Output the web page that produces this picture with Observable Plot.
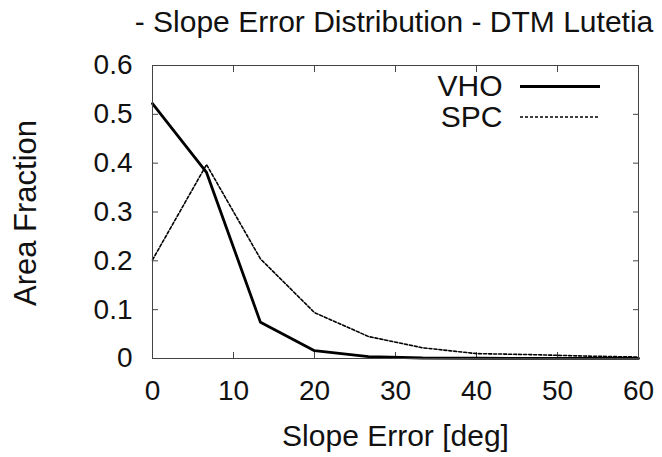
<!DOCTYPE html>
<html>
<head>
<meta charset="utf-8">
<script src="https://cdn.jsdelivr.net/npm/d3@7"></script>
<script src="https://cdn.jsdelivr.net/npm/@observablehq/plot@0.6"></script>
<style>
  html, body { margin: 0; padding: 0; background: #fff; }
  #chart svg { display: block; font-family: "Liberation Sans", Arial, Helvetica, sans-serif; }
</style>
</head>
<body>
<div id="chart"></div>
<script>
const slopeError = [0, 6.67, 13.33, 20, 26.67, 33.33, 40, 46.67, 53.33, 60];
const vho = [0.522, 0.381, 0.074, 0.016, 0.004, 0.001, 0.0005, 0.0003, 0.0002, 0.0001];
const spc = [0.202, 0.397, 0.204, 0.094, 0.045, 0.022, 0.010, 0.008, 0.005, 0.003];
const xTicks = [0, 10, 20, 30, 40, 50, 60];
const yTicks = [0, 0.1, 0.2, 0.3, 0.4, 0.5, 0.6];
const seriesNames = ["VHO", "SPC"];
const title = "- Slope Error Distribution - DTM Lutetia";
const xLabel = "Slope Error [deg]";
const yLabel = "Area Fraction";

const vhoData = slopeError.map((x, i) => ({x, y: vho[i]}));
const spcData = slopeError.map((x, i) => ({x, y: spc[i]}));

const font = "'Liberation Sans', Arial, Helvetica, sans-serif";

function legendLines(index, scales, values, dim) {
  const g = d3.create("svg:g");
  const x1 = dim.width - dim.marginRight - 118, x2 = dim.width - dim.marginRight - 38;
  g.append("line").attr("x1", x1).attr("x2", x2)
    .attr("y1", dim.marginTop + 21.5).attr("y2", dim.marginTop + 21.5)
    .attr("stroke", "#000").attr("stroke-width", 2.8);
  g.append("line").attr("x1", x1).attr("x2", x2)
    .attr("y1", dim.marginTop + 52).attr("y2", dim.marginTop + 52)
    .attr("stroke", "#000").attr("stroke-width", 1.6).attr("stroke-dasharray", "3,2");
  return g.node();
}

const chart = Plot.plot({
  width: 662,
  height: 457,
  marginLeft: 152,
  marginRight: 24,
  marginTop: 65,
  marginBottom: 99,
  style: {fontFamily: font, color: "#000", background: "#fff"},
  x: {domain: [0, 60]},
  y: {domain: [0, 0.6]},
  marks: [
    Plot.axisX(xTicks, {tickSize: 0, tickPadding: 22, fontSize: 28, label: null, fill: "#111"}),
    Plot.axisX(xTicks, {anchor: "bottom", tickSize: -6, text: null, label: null, stroke: "#444"}),
    Plot.axisX(xTicks, {anchor: "top", tickSize: -6, text: null, label: null, stroke: "#444"}),
    Plot.axisY(yTicks, {tickSize: 0, tickPadding: 20, fontSize: 28, label: null, fill: "#111",
      tickFormat: d => d === 0 ? "0" : d.toFixed(1)}),
    Plot.axisY(yTicks, {anchor: "left", tickSize: -6, text: null, label: null, stroke: "#444"}),
    Plot.axisY(yTicks, {anchor: "right", tickSize: -6, text: null, label: null, stroke: "#444"}),
    Plot.line(spcData, {x: "x", y: "y", stroke: "#000", strokeWidth: 1.6, strokeDasharray: "3,2"}),
    Plot.line(vhoData, {x: "x", y: "y", stroke: "#000", strokeWidth: 2.8}),
    Plot.frame({stroke: "#444", strokeWidth: 1}),
    Plot.text([title], {frameAnchor: "top", dy: -34, dx: -1.5, lineAnchor: "bottom", fontSize: 30, fill: "#111"}),
    Plot.text([xLabel], {frameAnchor: "bottom", dy: 87, lineAnchor: "bottom", fontSize: 30, fill: "#111"}),
    Plot.text([yLabel], {frameAnchor: "left", dx: -117, dy: 1, rotate: -90, textAnchor: "middle", lineAnchor: "bottom", fontSize: 31, fill: "#111"}),
    Plot.text([seriesNames[0]], {frameAnchor: "top-right", dx: -136, dy: 21, textAnchor: "end", lineAnchor: "middle", fontSize: 30, fill: "#111"}),
    Plot.text([seriesNames[1]], {frameAnchor: "top-right", dx: -136, dy: 52, textAnchor: "end", lineAnchor: "middle", fontSize: 30, fill: "#111"}),
    legendLines
  ]
});
document.getElementById("chart").append(chart);
</script>
</body>
</html>
